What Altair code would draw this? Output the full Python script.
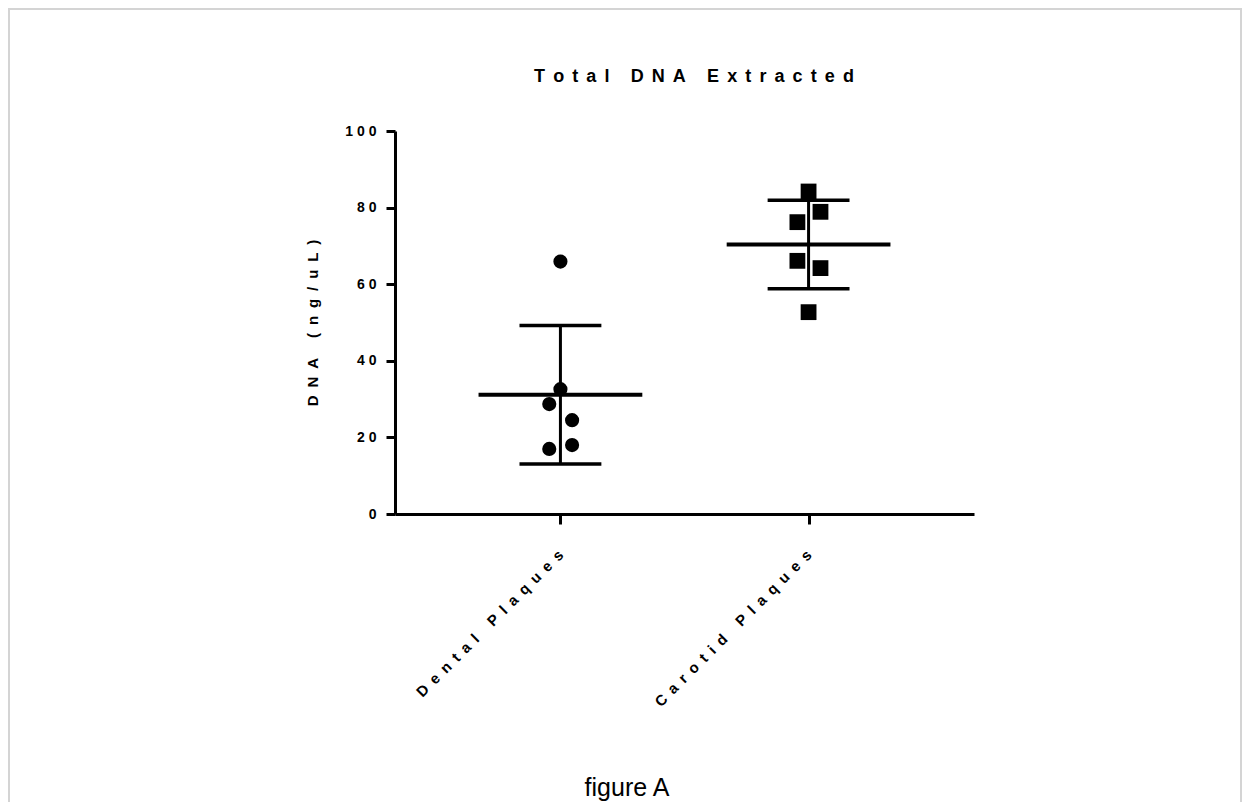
import json
import altair as alt
import pandas as pd

# ---- data ----
groups = ["Dental Plaques", "Carotid Plaques"]
group_pos = [1, 2]
dental_values = [65.9, 32.6, 28.7, 24.5, 18.0, 17.0]
dental_jitter = [0.0, 0.0, -0.045, 0.047, 0.047, -0.045]
carotid_values = [84.2, 78.9, 76.2, 66.1, 64.2, 52.7]
carotid_jitter = [0.0, 0.048, -0.045, -0.045, 0.048, 0.0]
y_ticks = [0, 20, 40, 60, 80, 100]
title_text = "Total DNA Extracted"
y_title = "DNA (ng/uL)"
caption = "figure A"

NB = "\u00a0"
THIN = "\u2009"
QUARTER = "\u2005"


def spaced(s, gap):
    return gap.join([NB if c == " " else c for c in s])


rows = []
for v, j in zip(dental_values, dental_jitter):
    rows.append({"group": groups[0], "pos": group_pos[0], "value": v, "xp": group_pos[0] + j})
for v, j in zip(carotid_values, carotid_jitter):
    rows.append({"group": groups[1], "pos": group_pos[1], "value": v, "xp": group_pos[1] + j})
df = pd.DataFrame(rows)

FONT = "Liberation Sans"
W, H = 579, 383
PAD = {"left": 387, "top": 123, "right": 268, "bottom": 288}

x_label_arr = json.dumps([""] + [spaced(g, NB + THIN) for g in groups])
y_label_arr = json.dumps([spaced(str(t), NB) for t in y_ticks])

x_scale = alt.Scale(domain=[1 / 3, 8 / 3], nice=False, zero=False)
y_scale = alt.Scale(domain=[0, 100], nice=False)

x_axis = alt.Axis(
    values=group_pos, labelExpr=f"{x_label_arr}[datum.value]", title=None,
    labelAngle=-45, labelAlign="right", labelBaseline="middle",
    labelFont=FONT, labelFontSize=15, labelFontWeight="bold", labelColor="black",
    labelPadding=28, tickSize=10, tickWidth=3, tickColor="black",
    domainWidth=3, domainColor="black", grid=False, labelOverlap=False,
    labelLimit=400,
)
y_axis = alt.Axis(
    values=y_ticks, labelExpr=f"{y_label_arr}[datum.value / 20]",
    title=spaced(y_title, NB + QUARTER), titleFont=FONT, titleFontSize=15, titleFontWeight="bold",
    titleColor="black", titlePadding=24,
    labelFont=FONT, labelFontSize=14, labelFontWeight="bold", labelColor="black",
    labelPadding=10, tickSize=9, tickWidth=3, tickColor="black",
    domainWidth=3, domainColor="black", grid=False,
)

base = alt.Chart(df)

stats = base.transform_aggregate(
    mean="mean(value)", sd="stdev(value)", groupby=["pos"]
).transform_calculate(
    lo="datum.mean - datum.sd", hi="datum.mean + datum.sd",
    xl="datum.pos - 0.33", xr="datum.pos + 0.33",
    cl="datum.pos - 0.165", cr="datum.pos + 0.165",
)

mean_line = stats.mark_rule(color="black", strokeWidth=4).encode(
    x=alt.X("xl:Q", scale=x_scale, axis=x_axis), x2="xr:Q",
    y=alt.Y("mean:Q", scale=y_scale, axis=y_axis),
)
err_line = stats.mark_rule(color="black", strokeWidth=3).encode(
    x="pos:Q", y="lo:Q", y2="hi:Q",
)
cap_hi = stats.mark_rule(color="black", strokeWidth=3.5).encode(
    x="cl:Q", x2="cr:Q", y="hi:Q",
)
cap_lo = stats.mark_rule(color="black", strokeWidth=3.5).encode(
    x="cl:Q", x2="cr:Q", y="lo:Q",
)

dots = base.transform_filter(alt.datum.group == groups[0]).mark_point(
    shape="circle", filled=True, size=200, color="black", opacity=1
).encode(x="xp:Q", y="value:Q")
squares = base.transform_filter(alt.datum.group == groups[1]).mark_point(
    shape="square", filled=True, size=250, color="black", opacity=1
).encode(x="xp:Q", y="value:Q")

one = alt.Chart(pd.DataFrame({"t": [caption], "title": [spaced(title_text, QUARTER + THIN)]}))
title_mark = one.mark_text(
    font=FONT, fontSize=18, fontWeight="bold", color="black",
    align="center", baseline="middle",
).encode(text="title:N", x=alt.value(299), y=alt.value(-54))
cap_text = one.mark_text(
    font=FONT, fontSize=25, color="black", align="center", baseline="alphabetic"
).encode(text="t:N", x=alt.value(232), y=alt.value(665))
frame = one.mark_rect(
    fill=None, stroke="#d4d4d4", strokeWidth=2
).encode(x=alt.value(-386), x2=alt.value(846), y=alt.value(-122), y2=alt.value(720))

chart = alt.layer(
    frame, mean_line, err_line, cap_hi, cap_lo, dots, squares, title_mark, cap_text
).properties(
    width=W, height=H,
    autosize=alt.AutoSizeParams(type="none"),
    padding=PAD,
    background="white",
).configure_view(strokeWidth=0, stroke="transparent")

chart.save("out.html", embed_options={"renderer": "svg", "actions": False})
